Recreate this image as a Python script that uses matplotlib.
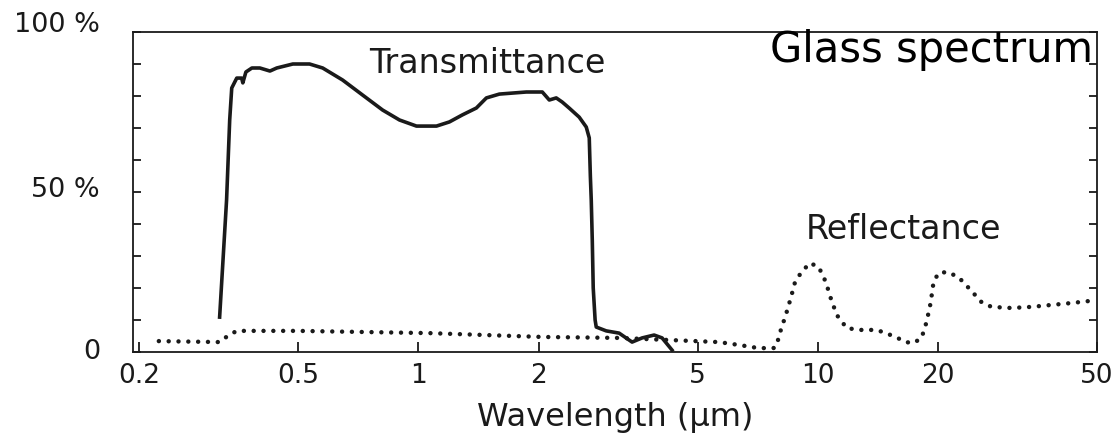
import numpy as np
import matplotlib
matplotlib.use("Agg")
import matplotlib.pyplot as plt

# transmittance curve (wavelength in um, percent)
trans_wl = [0.318, 0.331, 0.337, 0.341, 0.351, 0.361, 0.3635, 0.370, 0.383, 0.401,
            0.425, 0.442, 0.485, 0.534, 0.576, 0.646, 0.725, 0.814, 0.897, 0.989,
            1.110, 1.196, 1.289, 1.397, 1.480, 1.595, 1.863, 2.043, 2.127, 2.214,
            2.292, 2.387, 2.527, 2.632, 2.678, 2.695, 2.709, 2.725, 2.74, 2.77,
            2.788, 2.953, 3.181, 3.428, 3.632, 3.892, 4.075, 4.316]
trans_pct = [10.9, 47.5, 72.5, 82.5, 85.6, 85.6, 84.1, 87.5, 88.75, 88.75,
             87.8, 88.75, 90.0, 90.0, 88.75, 85.0, 80.3, 75.6, 72.5, 70.6,
             70.6, 71.9, 74.1, 76.25, 79.4, 80.6, 81.25, 81.25, 78.75, 79.4,
             78.1, 76.2, 73.4, 70.3, 66.9, 55.0, 47.5, 35.0, 20.0, 10.0,
             7.8, 6.6, 5.9, 3.1, 4.4, 5.3, 4.4, 0.6]

# reflectance curve
refl_wl = [0.224, 0.318, 0.333, 0.351, 0.5, 1.066, 2.043, 3.181, 5.655, 6.345,
           7.119, 7.80, 7.95, 8.081, 8.317, 8.559, 8.759, 9.067, 9.548, 10.05,
           10.47, 10.77, 11.15, 11.81, 12.66, 14.04, 14.79, 15.66, 16.59, 17.37,
           18.19, 18.72, 19.16, 19.49, 20.06, 21.12, 22.50, 24.12, 25.69, 27.21,
           30.53, 34.25, 38.42, 43.12, 47.56]
refl_pct = [3.4, 3.1, 5.0, 6.6, 6.6, 5.9, 4.7, 4.4, 3.1, 2.2,
            1.2, 1.25, 3.75, 6.9, 11.6, 16.9, 21.6, 24.7, 27.8, 26.6,
            21.9, 16.9, 11.6, 7.5, 6.9, 6.9, 5.9, 4.7, 3.1, 2.8,
            4.4, 9.4, 15.3, 21.9, 24.7, 25.0, 23.4, 19.4, 15.6, 14.1,
            13.75, 14.1, 14.7, 15.3, 15.9]

xticks = [0.2, 0.5, 1, 2, 5, 10, 20, 50]
xtick_labels = ["0.2", "0.5", "1", "2", "5", "10", "20", "50"]
yticks = list(range(0, 101, 10))
ylab_vals = [0, 50, 100]
ylab_text = ["0", "50 %", "100 %"]
ylab_nudge = [-2.2, -1.6, 0.0]

ink = "#1a1a1a"
plt.rcParams["font.family"] = ["DejaVu Sans"]

fig = plt.figure(figsize=(11.14, 4.40), dpi=100)
ax = fig.add_axes([133 / 1114, 1 - 352 / 440, 964 / 1114, 320 / 440])

ax.plot(trans_wl, trans_pct, color=ink, lw=2.6, solid_joinstyle="round")
ax.plot(refl_wl, refl_pct, color=ink, lw=3.2, linestyle=(0, (0.01, 2.2)),
        dash_capstyle="round")

ax.set_xscale("log")
ax.set_xlim(0.193, 49.5)
ax.set_ylim(0, 100)
ax.set_xticks(xticks)
ax.set_xticklabels(xtick_labels)
ax.minorticks_off()
ax.set_yticks(yticks)
ax.set_yticklabels([])
ax.tick_params(axis="x", direction="in", length=7, width=1.3, colors=ink,
               labelsize=19, pad=8)
ax.tick_params(axis="y", direction="in", length=6, width=1.3, colors=ink,
               right=True)
for s in ax.spines.values():
    s.set_linewidth(1.3)
    s.set_color(ink)

for v, t, n in zip(ylab_vals, ylab_text, ylab_nudge):
    ax.text(-0.0342, v + n, t, transform=ax.get_yaxis_transform(),
            ha="right", va="baseline", fontsize=19.5, color=ink)

ax.set_xlabel("Wavelength (µm)", fontsize=23, color=ink, labelpad=9)

ax.text(1.49, 87.2, "Transmittance", ha="center", va="baseline",
        fontsize=24, color=ink)
ax.text(16.4, 35.3, "Reflectance", ha="center", va="baseline",
        fontsize=24, color=ink)

fig.text(1093 / 1114, 1 - 62 / 440, "Glass spectrum", ha="right",
         va="baseline", fontsize=30, color="black")

fig.savefig("out.png", dpi=100)
